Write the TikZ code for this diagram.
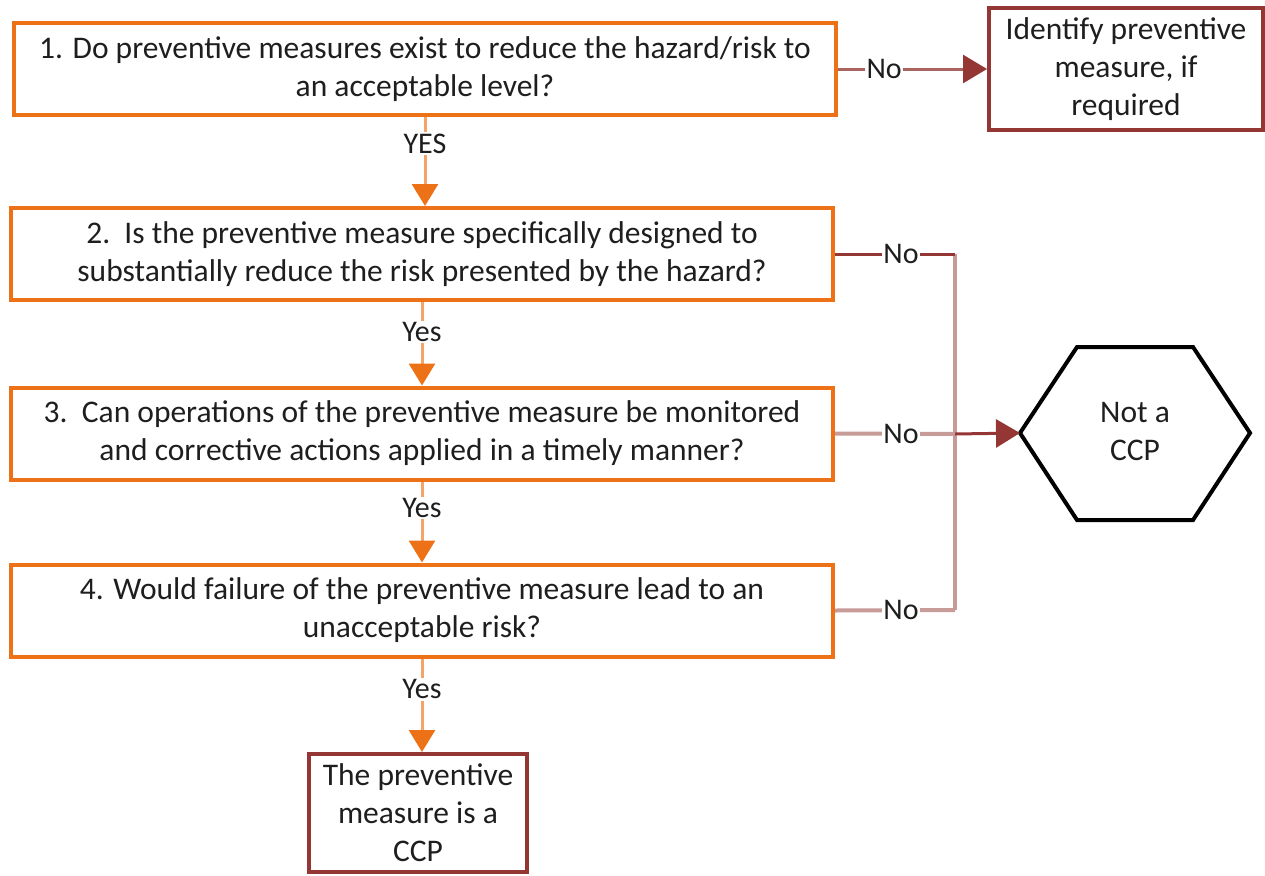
\documentclass[tikz,border=0pt]{standalone}
\usepackage{fontspec}
\setmainfont{Carlito}
\usetikzlibrary{arrows.meta}
\definecolor{orng}{HTML}{ED7117}
\definecolor{orngl}{HTML}{F4A468}
\definecolor{dred}{HTML}{943634}
\definecolor{mred}{HTML}{A9645F}
\definecolor{pinkl}{HTML}{C79B98}
\definecolor{txt}{HTML}{1E1E1E}
\begin{document}
\begin{tikzpicture}[x=1pt,y=-1pt, font=\fontsize{31.5}{38}\selectfont, text=txt,
 qbox/.style={draw=orng, line width=4pt, minimum width=822pt, minimum height=92pt, align=center, inner sep=0pt},
 rbox/.style={draw=dred, line width=4pt, align=center, inner sep=0pt},
 lbl/.style={fill=white, inner sep=1.5pt, font=\fontsize{30}{34}\selectfont},
 oarr/.style={draw=orngl, line width=3pt, -{Triangle[length=22pt,width=26pt,color=orng]}},
 rarr/.style={line width=3pt, -{Triangle[length=24pt,width=28pt,color=dred]}},
 pline/.style={draw=pinkl, line width=4pt},
]
\useasboundingbox (0,0) rectangle (1265,875);

\node[qbox] (q1) at (425,69) {1. Do preventive measures exist to reduce the hazard/risk to\\an acceptable level?};
\node[qbox] (q2) at (422,254) {2.\ \ Is the preventive measure specifically designed to\\substantially reduce the risk presented by the hazard?};
\node[qbox] (q3) at (422,433.5) {3.\ \ Can operations of the preventive measure be monitored\\and corrective actions applied in a timely manner?};
\node[qbox] (q4) at (422,610.5) {4. Would failure of the preventive measure lead to an\\unacceptable risk?};

\node[rbox, minimum width=274pt, minimum height=122pt] (idf) at (1126,69) {Identify preventive\\measure, if\\required};
\node[rbox, minimum width=218pt, minimum height=118pt] (ccp) at (418,813) {The preventive\\measure is a\\CCP};

% hexagon
\coordinate (hw) at (1020,433);
\coordinate (hnw) at (1077,347);
\coordinate (hne) at (1193,347);
\coordinate (he) at (1250,433);
\coordinate (hse) at (1193,520);
\coordinate (hsw) at (1077,520);
\draw[black, line width=4pt, line join=miter] (hw) -- (hnw) -- (hne) -- (he) -- (hse) -- (hsw) -- cycle;
\node[align=center] (hex) at (1135,431) {Not a\\CCP};

% vertical yes arrows
\draw[oarr] (q1.south -| 425,0) -- node[lbl, pos=0.3]{YES} (q2.north -| 425,0);
\draw[oarr] (q2.south -| 422,0) -- node[lbl, pos=0.36]{Yes} (q3.north -| 422,0);
\draw[oarr] (q3.south -| 422,0) -- node[lbl, pos=0.33]{Yes} (q4.north -| 422,0);
\draw[oarr] (q4.south -| 422,0) -- node[lbl, pos=0.33]{Yes} (ccp.north -| 422,0);

% no connectors
\draw[rarr, draw=mred] (q1.east) -- node[lbl, pos=0.31]{No} (idf.west);
\coordinate (vtop) at (955,254);
\coordinate (vmid) at (955,434);
\coordinate (vbot) at (955,610);
\draw[pline] (vtop) -- (vbot);
\draw[draw=dred, line width=3pt] (q2.east) -- node[lbl, pos=0.55]{No} (vtop);
\draw[pline] (q4.east) -- node[lbl, pos=0.55]{No} (vbot);
\draw[pline] (q3.east) -- node[lbl, pos=0.55]{No} (vmid);
\draw[rarr, draw=dred] (vmid) -- (hw);
\end{tikzpicture}
\end{document}
